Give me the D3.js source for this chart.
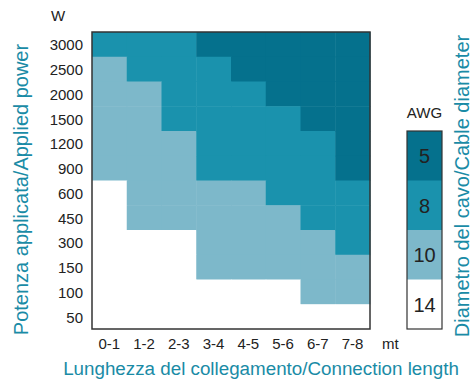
<!DOCTYPE html>
<html><head><meta charset="utf-8">
<script src="https://cdn.jsdelivr.net/npm/d3@7"></script>
<style>
html,body{margin:0;padding:0;background:#fff;}
text{font-family:"Liberation Sans",Arial,Helvetica,sans-serif;}
</style></head>
<body>
<svg id="c" width="472" height="381"></svg>
<script>
const powers = ["3000","2500","2000","1500","1200","900","600","450","300","150","100","50"];
const lengths = ["0-1","1-2","2-3","3-4","4-5","5-6","6-7","7-8"];
const awgClasses = ["5","8","10","14"];
const awgColors = ["#05718d","#1a92ad","#7db8ca","#ffffff"];
// AWG value per power row (top to bottom), per length column
const r3000 = ["8","8","8","5","5","5","5","5"];
const r2500 = ["10","8","8","8","5","5","5","5"];
const r2000 = ["10","10","8","8","8","5","5","5"];
const r1500 = ["10","10","8","8","8","8","5","5"];
const r1200 = ["10","10","10","8","8","8","8","5"];
const r900  = ["10","10","10","8","8","8","8","5"];
const r600  = ["14","10","10","10","10","8","8","8"];
const r450  = ["14","10","10","10","10","10","8","8"];
const r300  = ["14","14","14","10","10","10","10","8"];
const r150  = ["14","14","14","10","10","10","10","10"];
const r100  = ["14","14","14","14","14","14","10","10"];
const r50   = ["14","14","14","14","14","14","14","14"];
const grid = [r3000,r2500,r2000,r1500,r1200,r900,r600,r450,r300,r150,r100,r50];

const svg = d3.select("#c");
const teal = "#1a8ba6";
const plot = {x0:92, x1:370, y0:32, y1:329};

const x = d3.scaleBand().domain(lengths).range([plot.x0, plot.x1]);
const y = d3.scaleBand().domain(powers).range([plot.y0, plot.y1]);
const color = d3.scaleOrdinal().domain(awgClasses).range(awgColors);

const cells = [];
grid.forEach((row,i)=>row.forEach((v,j)=>cells.push({p:powers[i], l:lengths[j], v})));

svg.append("g").selectAll("rect").data(cells).join("rect")
  .attr("x", d=>x(d.l)).attr("y", d=>y(d.p))
  .attr("width", x.bandwidth()+0.5).attr("height", y.bandwidth()+0.5)
  .attr("fill", d=>color(d.v));

svg.append("rect").attr("x",plot.x0).attr("y",plot.y0)
  .attr("width",plot.x1-plot.x0).attr("height",plot.y1-plot.y0)
  .attr("fill","none").attr("stroke","#333").attr("stroke-width",1.5);

// y tick labels
svg.append("g").selectAll("text").data(powers).join("text")
  .attr("x", 83).attr("y", d=>y(d)+y.bandwidth()/2+6)
  .attr("text-anchor","end").attr("font-size",15).attr("fill","#222").text(d=>d);
svg.append("text").attr("x",58).attr("y",21).attr("text-anchor","middle")
  .attr("font-size",15).attr("fill","#222").text("W");

// x tick labels
svg.append("g").selectAll("text").data(lengths).join("text")
  .attr("x", d=>x(d)+x.bandwidth()/2).attr("y", 349)
  .attr("text-anchor","middle").attr("font-size",15).attr("fill","#222").text(d=>d);
svg.append("text").attr("x",382).attr("y",349)
  .attr("font-size",15).attr("fill","#222").text("mt");

// axis titles
svg.append("text").attr("x",(63+459)/2).attr("y",375).attr("text-anchor","middle")
  .attr("font-size",18.8).attr("fill",teal).text("Lunghezza del collegamento/Connection length");
svg.append("text").attr("transform","translate(28,189.5) rotate(-90)").attr("text-anchor","middle")
  .attr("font-size",20).attr("fill",teal).text("Potenza applicata/Applied power");
svg.append("text").attr("transform","translate(469,186) rotate(-90)").attr("text-anchor","middle")
  .attr("font-size",20).attr("fill",teal).text("Diametro del cavo/Cable diameter");

// legend
const ly = d3.scaleBand().domain(awgClasses).range([131, 329]);
const lg = svg.append("g");
lg.selectAll("rect").data(awgClasses).join("rect")
  .attr("x",407).attr("y",d=>ly(d)).attr("width",35).attr("height",ly.bandwidth()+0.5)
  .attr("fill",d=>color(d));
lg.append("rect").attr("x",407).attr("y",131).attr("width",35).attr("height",198)
  .attr("fill","none").attr("stroke","#333").attr("stroke-width",1.2);
lg.selectAll("text").data(awgClasses).join("text")
  .attr("x",424.5).attr("y",d=>ly(d)+ly.bandwidth()/2+7.5).attr("text-anchor","middle")
  .attr("font-size",20).attr("fill","#222").text(d=>d);
svg.append("text").attr("x",424.5).attr("y",117.5).attr("text-anchor","middle")
  .attr("font-size",15).attr("fill","#222").text("AWG");
</script>
</body></html>
